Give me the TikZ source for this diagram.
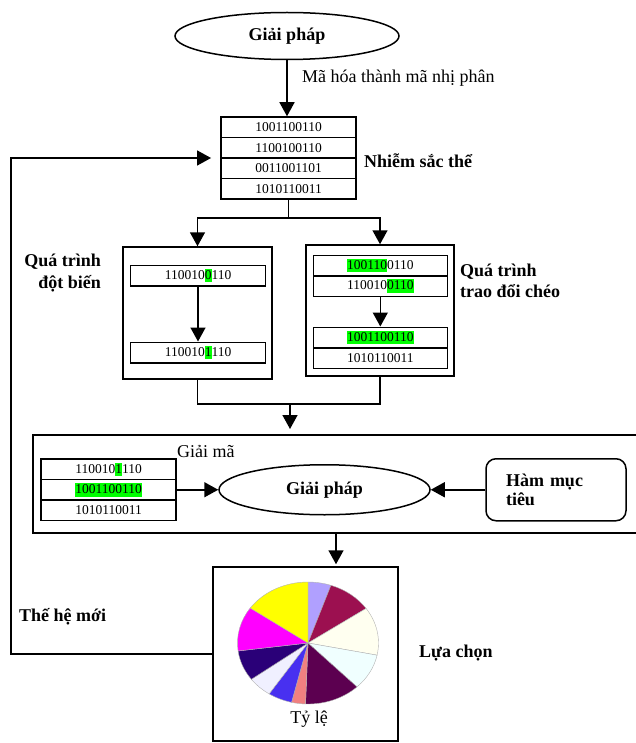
\documentclass[tikz,border=0pt]{standalone}
\usepackage{fontspec}
\setmainfont{Liberation Serif}
\usetikzlibrary{shapes.geometric,arrows.meta,fit}
\definecolor{hlgreen}{RGB}{0,255,0}
\definecolor{pieA}{RGB}{176,160,255}
\definecolor{pieB}{RGB}{156,16,80}
\definecolor{pieC}{RGB}{255,255,240}
\definecolor{pieD}{RGB}{240,255,255}
\definecolor{pieE}{RGB}{92,0,80}
\definecolor{pieF}{RGB}{240,128,128}
\definecolor{pieG}{RGB}{72,48,240}
\definecolor{pieH}{RGB}{240,240,255}
\definecolor{pieI}{RGB}{42,0,120}
\definecolor{pieJ}{RGB}{255,0,255}
\definecolor{pieK}{RGB}{255,255,0}
\newcommand{\hlg}[1]{{\setlength{\fboxsep}{0pt}\colorbox{hlgreen}{\rule[-3pt]{0pt}{13.5pt}#1}}}
\begin{document}
\begin{tikzpicture}[x=1pt,y=-1pt,
  conn/.style={line width=1.5pt},
  arr/.style={line width=1.5pt, -{Triangle[length=14pt,width=15pt]}},
  rowbox/.style={draw, line width=1.5pt, minimum width=135pt, minimum height=20.5pt, inner sep=0pt, font=\fontsize{13.5}{15}\selectfont},
  frame/.style={draw, line width=1.5pt, inner sep=0pt},
  big/.style={font=\fontsize{18}{22}\selectfont, inner sep=0pt},
  bigb/.style={font=\fontsize{18}{22}\selectfont\bfseries, inner sep=0pt},
  oval/.style={ellipse, draw, line width=1.5pt, inner sep=0pt, font=\fontsize{18}{22}\selectfont\bfseries},
  slice/.style={draw=black!30, line width=0.4pt},
]
\useasboundingbox (0,0) rectangle (636,743);

% top solution and chromosome
\node[oval, minimum width=224, minimum height=47] (top) at (287,36) {Giải pháp};
\node[rowbox] (c1) at (288.5,127.25) {1001100110};
\node[rowbox] (c2) at (288.5,147.75) {1100100110};
\node[rowbox] (c3) at (288.5,168.25) {0011001101};
\node[rowbox] (c4) at (288.5,188.75) {1010110011};
\node[fit=(c1)(c4), inner sep=0pt] (chrom) {};
\draw[arr] (top.south) -- (top.south |- c1.north);
\node[big, anchor=base west] (enc) at (302,83) {Mã hóa thành mã nhị phân};
\node[bigb, anchor=base west] (nst) at (364,168) {Nhiễm sắc thể};

% mutation
\node[frame, minimum width=149, minimum height=132] (mutbox) at (197.5,313) {};
\node[rowbox] (m1) at (198,275.5) {110010\hlg{0}110};
\node[rowbox] (m2) at (198,352.5) {110010\hlg{1}110};
\draw[arr] (m1) -- (m2);
\node[bigb, anchor=base east] (lm1) at (101,266) {Quá trình};
\node[bigb, anchor=base east] (lm2) at (101,288) {đột biến};

% crossover
\node[frame, minimum width=148, minimum height=131] (crossbox) at (380,310.5) {};
\node[rowbox, minimum width=134] (x1) at (380.3,265.5) {\hlg{100110}0110};
\node[rowbox, minimum width=134] (x2) at (380.3,286) {110010\hlg{0110}};
\node[rowbox, minimum width=134] (x3) at (380.3,337.5) {\hlg{1001100110}};
\node[rowbox, minimum width=134] (x4) at (380.3,358) {1010110011};
\draw[arr] (x2) -- (x3);
\node[bigb, anchor=base west] (lx1) at (460,276) {Quá trình};
\node[bigb, anchor=base west] (lx2) at (460,297) {trao đổi chéo};

% split and merge
\coordinate (split) at (288.5,218);
\draw[conn] (c4.south) -- (split);
\draw[arr] (split) -| (mutbox.north);
\draw[arr] (split) -| (crossbox.north);
\coordinate (merge) at (290,404);
\draw[conn] (mutbox.south) |- (merge) -| (crossbox.south);

% decoding
\node[frame, minimum width=660, minimum height=98, anchor=north west] (decbox) at (32,434) {};
\draw[arr, shorten >=5pt] (merge) -- (merge |- decbox.north);
\node[big, anchor=base west] (gm) at (177,457) {Giải mã};
\node[rowbox] (d1) at (108.5,469.25) {110010\hlg{1}110};
\node[rowbox] (d2) at (108.5,489.75) {\hlg{1001100110}};
\node[rowbox] (d3) at (108.5,510.25) {1010110011};
\node[oval, minimum width=211, minimum height=50] (sol) at (324.5,489.75) {Giải pháp};
\draw[arr] (d2.east) -- (sol.west);
\node[draw, line width=1.5pt, rounded corners=10pt, minimum width=140, minimum height=62, text width=100, align=left, inner sep=0pt, font=\fontsize{18}{19}\selectfont\bfseries] (ham) at (556,489.75) {Hàm mục\\tiêu};
\draw[arr] (ham.west) -- (sol.east);

% selection
\node[frame, minimum width=185, minimum height=174] (sel) at (305.5,654) {};
\coordinate (dout) at (336,532);
\draw[arr, shorten >=2pt] (dout) -- (dout |- sel.north);
\begin{scope}[shift={(308,643)}, yscale=-1]
\foreach \a/\b/\c in {90/71/pieA, 71/34.5/pieB, 34.5/-11.5/pieC, -11.5/-46/pieD, -46/-92/pieE, -92/-103.5/pieF, -103.5/-123.5/pieG, -123.5/-143.5/pieH, -143.5/-172.5/pieI, -172.5/-215/pieJ, -215/-270/pieK}
  \filldraw[slice, fill=\c] (0,0) -- (\a:70.5 and 61) arc[start angle=\a, end angle=\b, x radius=70.5, y radius=61] -- cycle;
\end{scope}
\node[big, anchor=base] (tyle) at (309,723) {Tỷ lệ};
\node[bigb, anchor=base west] (lc) at (419,657) {Lựa chọn};
\node[bigb, anchor=base west] (thm) at (19,621) {Thế hệ mới};

% feedback
\coordinate (fb) at (11,654);
\draw[arr, shorten >=9pt] (sel.west) -- (fb) |- (chrom.west);
\end{tikzpicture}
\end{document}
